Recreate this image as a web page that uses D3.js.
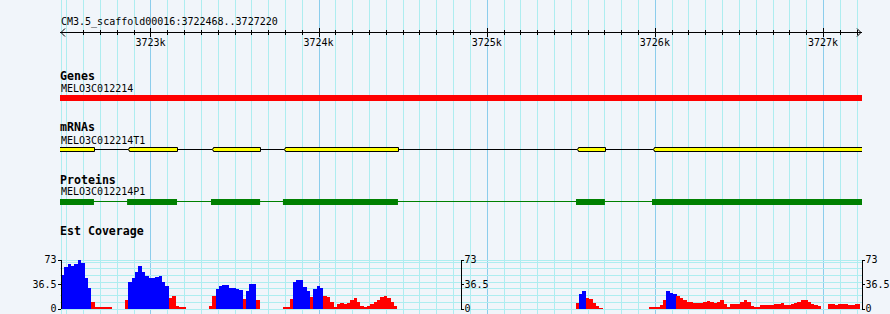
<!DOCTYPE html>
<html>
<head>
<meta charset="utf-8">
<script src="https://cdn.jsdelivr.net/npm/d3@7"></script>
<style>
    body { margin: 0; background: #f1f5fa; }
    svg { display: block; }
    text { font-family: "DejaVu Sans Mono", monospace; fill: #000; }
</style>
</head>
<body>
<div id="chart"></div>
<script>
// region shown
var refName = 'CM3.5_scaffold00016',
    regionStart = 3722468,
    regionEnd = 3727220;

// gene model (minus strand)
var geneName = 'MELO3C012214',
    geneStart = 3722400,
    geneEnd = 3727300;
var mrnaName = 'MELO3C012214T1',
    proteinName = 'MELO3C012214P1';
var exonStarts = [3722400, 3722861, 3723360, 3723788, 3725531, 3725983];
var exonEnds   = [3722664, 3723158, 3723652, 3724472, 3725703, 3727300];

// EST coverage, 20 bp bins, one list per covered block
var covBin = 20;
var covMax = 73;
var covStarts = [3722468, 3722848, 3723348, 3723788, 3725528, 3725968];
var covValues = [
    [50, 62, 66, 63, 66, 72, 68, 45, 30, 10, 2.5, 2.5, 2.5, 2.5, 2],
    [12, 40, 45, 55, 63, 55, 48, 46, 45, 47, 49, 40, 33, 15, 19, 4, 2.5, 2.5],
    [3, 19, 29, 33, 35, 35, 30, 30, 29, 28, 14, 26, 36, 36, 12],
    [2.5, 2.5, 14, 39, 43, 42, 32, 26, 17, 29, 34, 30, 19, 17, 10, 2, 6, 8, 7, 8, 12, 15, 10, 4,
     2.5, 4, 6, 9, 12, 17, 19, 16, 9, 4],
    [8, 21, 26, 15, 14, 8, 3, 1],
    [2, 2, 2, 5, 13, 26, 23, 22, 19, 15, 12, 10, 10, 8, 8, 8, 9, 11, 10, 8, 10, 13, 7, 2, 6,
     6, 7, 9, 13, 10, 4, 2, 2, 4.5, 4.5, 4.5, 5, 6, 7, 8, 5, 5, 7, 8, 10, 12, 12, 9, 6, 5,
     4, 0, 0, 7, 6, 5, 7, 6, 6, 5, 5, 7, 7]
];
// stretches drawn in blue, the rest in red
var blueRanges = [
    [3722468, 3722648], [3722868, 3723108], [3723388, 3723548], [3723568, 3723628],
    [3723848, 3723948], [3723968, 3724028], [3725548, 3725588], [3726068, 3726128]
];

var width = 890,
    height = 314,
    left = 60,
    right = 862;

var svg = d3.select('#chart')
    .append('svg')
    .attr('width', width)
    .attr('height', height)
    .style('background', '#f1f5fa')
;

var x = d3.scaleLinear()
    .domain([regionStart, regionEnd])
    .range([61, 860])
;

svg.append('clipPath')
    .attr('id', 'panel')
    .append('rect')
    .attr('x', left)
    .attr('y', 0)
    .attr('width', right - left)
    .attr('height', height)
;

// vertical grid, every 100 bp
var gridPos = d3.range(Math.ceil(regionStart / 100) * 100, regionEnd, 100);
svg.append('g')
    .attr('shape-rendering', 'crispEdges')
    .selectAll('line')
    .data([regionStart].concat(gridPos))
    .enter()
    .append('line')
    .attr('x1', function(d) { return Math.round(x(d)) + 0.5; })
    .attr('x2', function(d) { return Math.round(x(d)) + 0.5; })
    .attr('y1', 0)
    .attr('y2', height)
    .attr('stroke', function(d) { return d % 1000 === 0 ? '#8ccdec' : '#aeedf0'; })
;

// horizontal grid in the coverage track
var yCov = d3.scaleLinear()
    .domain([0, covMax])
    .range([308.5, 259.5])
;
var hGrid = d3.range(0, covMax, 10).concat([covMax]);
svg.append('g')
    .attr('shape-rendering', 'crispEdges')
    .selectAll('line')
    .data(hGrid)
    .enter()
    .append('line')
    .attr('x1', left)
    .attr('x2', right)
    .attr('y1', function(d) { return Math.round(yCov(d)) + 0.5; })
    .attr('y2', function(d) { return Math.round(yCov(d)) + 0.5; })
    .attr('stroke', '#aeedf0')
;

// ruler
var ruler = svg.append('g').attr('shape-rendering', 'crispEdges');
ruler.append('text')
    .attr('x', 61)
    .attr('y', 25)
    .style('font-size', '10px')
    .text(refName + ':' + regionStart + '..' + regionEnd)
;
ruler.append('line')
    .attr('x1', left).attr('x2', right)
    .attr('y1', 32.5).attr('y2', 32.5)
    .attr('stroke', '#000')
;
ruler.append('path')
    .attr('d', 'M65,28.5L61,32.5L65,36.5M857,28.5L861,32.5L857,36.5')
    .attr('fill', 'none')
    .attr('stroke', '#000')
    .attr('shape-rendering', 'auto')
;
ruler.selectAll('line.tick')
    .data(gridPos.filter(function(d) { return x(d) > 70; }))
    .enter()
    .append('line')
    .attr('class', 'tick')
    .attr('x1', function(d) { return Math.round(x(d)) + 0.5; })
    .attr('x2', function(d) { return Math.round(x(d)) + 0.5; })
    .attr('y1', function(d) { return d % 1000 === 0 ? 28 : 30; })
    .attr('y2', function(d) { return d % 1000 === 0 ? 37 : 35; })
    .attr('stroke', '#000')
;
ruler.selectAll('text.label')
    .data(gridPos.filter(function(d) { return d % 1000 === 0; }))
    .enter()
    .append('text')
    .attr('class', 'label')
    .attr('x', function(d) { return x(d); })
    .attr('y', 45.5)
    .attr('text-anchor', 'middle')
    .style('font-size', '10px')
    .text(function(d) { return d / 1000 + 'k'; })
;

function trackTitle(title, y) {
    svg.append('text')
        .attr('x', 60)
        .attr('y', y)
        .style('font-size', '11.6px')
        .style('font-weight', 'bold')
        .text(title)
    ;
}
function trackLabel(name, y) {
    svg.append('text')
        .attr('x', 61)
        .attr('y', y)
        .style('font-size', '10px')
        .text(name)
    ;
}

var panel = svg.append('g').attr('clip-path', 'url(#panel)');
var exons = exonStarts.map(function(s, i) { return { start: s, end: exonEnds[i] }; });

// Genes
trackTitle('Genes', 80);
trackLabel(geneName, 92);
panel.append('rect')
    .attr('x', x(geneStart))
    .attr('y', 95)
    .attr('width', x(geneEnd) - x(geneStart))
    .attr('height', 6)
    .attr('fill', '#ff0000')
;

// mRNAs
trackTitle('mRNAs', 131);
trackLabel(mrnaName, 143.5);
panel.append('line')
    .attr('x1', x(geneStart)).attr('x2', x(geneEnd))
    .attr('y1', 149.5).attr('y2', 149.5)
    .attr('stroke', '#000')
    .attr('shape-rendering', 'crispEdges')
;
panel.selectAll('path.exon')
    .data(exons)
    .enter()
    .append('path')
    .attr('class', 'exon')
    .attr('d', function(d) {
        var x0 = Math.round(x(d.start)) + 0.5,
            x1 = Math.round(x(d.end)) + 0.5,
            t = 147.5, b = 151.5, m = 149.5;
        return 'M' + (x0 + 2) + ',' + t + 'L' + x1 + ',' + t + 'L' + x1 + ',' + b +
            'L' + (x0 + 2) + ',' + b + 'L' + (x0 + 2) + ',' + (m + 1) + 'L' + x0 + ',' + m +
            'L' + (x0 + 2) + ',' + (m - 1) + 'Z';
    })
    .attr('fill', '#ffff00')
    .attr('stroke', '#000')
;

// Proteins
trackTitle('Proteins', 183.5);
trackLabel(proteinName, 195);
panel.append('line')
    .attr('x1', x(geneStart)).attr('x2', x(geneEnd))
    .attr('y1', 201.5).attr('y2', 201.5)
    .attr('stroke', '#008000')
    .attr('shape-rendering', 'crispEdges')
;
panel.selectAll('rect.cds')
    .data(exons)
    .enter()
    .append('rect')
    .attr('class', 'cds')
    .attr('x', function(d) { return x(d.start); })
    .attr('y', 199)
    .attr('width', function(d) { return x(d.end) - x(d.start); })
    .attr('height', 6)
    .attr('fill', '#008000')
;

// Est Coverage
trackTitle('Est Coverage', 235);

var bins = [];
covStarts.forEach(function(s, b) {
    covValues[b].forEach(function(v, i) {
        var start = s + i * covBin;
        bins.push({ start: start, end: Math.min(start + covBin, regionEnd), value: v });
    });
});

function isBlue(d) {
    var c = (d.start + d.end) / 2;
    return blueRanges.some(function(r) { return c >= r[0] && c < r[1]; });
}

panel.append('g')
    .attr('shape-rendering', 'crispEdges')
    .selectAll('rect')
    .data(bins.filter(function(d) { return d.value > 0; }))
    .enter()
    .append('rect')
    .attr('x', function(d) { return x(d.start); })
    .attr('width', function(d) { return x(d.end) - x(d.start) + 0.2; })
    .attr('y', function(d) { return yCov(d.value); })
    .attr('height', function(d) { return yCov(0) - yCov(d.value); })
    .attr('fill', function(d) { return isBlue(d) ? '#0000ff' : '#ff0000'; })
;

// coverage scales
var covAxisPos = [
    { x: 60.5, side: 'left' },
    { x: 460.5, side: 'right' },
    { x: 861.5, side: 'right' }
];
var minorTicks = d3.range(0, 11).map(function(i) { return covMax * i / 10; });

covAxisPos.forEach(function(a) {
    var major = (a.side === 'left' ? d3.axisLeft(yCov) : d3.axisRight(yCov))
        .tickValues([0, covMax / 2, covMax])
        .tickSize(3)
        .tickSizeOuter(0)
        .tickPadding(1)
        .tickFormat(function(d) { return d; })
    ;
    var minor = (a.side === 'left' ? d3.axisLeft(yCov) : d3.axisRight(yCov))
        .tickValues(minorTicks)
        .tickSize(2)
        .tickSizeOuter(0)
        .tickFormat('')
    ;
    var g = svg.append('g')
        .attr('transform', 'translate(' + a.x + ',0)')
        .attr('shape-rendering', 'crispEdges')
    ;
    g.call(minor);
    g.call(major);
    g.selectAll('text')
        .attr('font-family', '"DejaVu Sans Mono", monospace')
        .attr('font-size', '10px')
        .attr('fill', '#000')
    ;
    g.selectAll('path, line').attr('stroke', '#000');
});
</script>
</body>
</html>
